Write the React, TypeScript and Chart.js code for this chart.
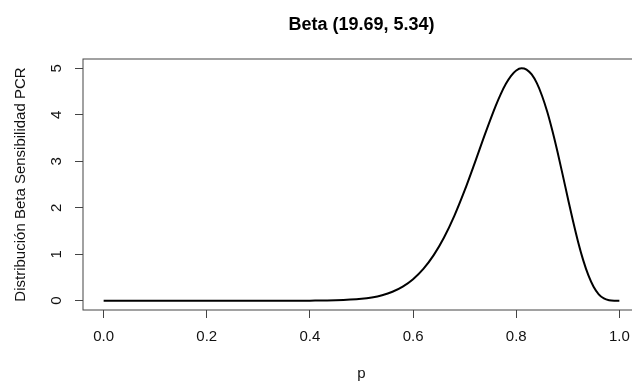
import React, { useEffect, useRef } from "react";
import { Chart, registerables } from "chart.js";

Chart.register(...registerables);

// Density curve
const pValues = [
  0, 0.05, 0.1, 0.15, 0.2, 0.25, 0.3, 0.35, 0.4, 0.45, 0.5, 0.52, 0.54, 0.56, 0.58,
  0.6, 0.62, 0.64, 0.66, 0.68, 0.7, 0.72, 0.74, 0.76, 0.77, 0.78, 0.79, 0.8, 0.81,
  0.82, 0.83, 0.84, 0.85, 0.86, 0.87, 0.88, 0.89, 0.9, 0.91, 0.92, 0.93, 0.94, 0.95,
  0.96, 0.97, 0.98, 0.99, 1.0,
];
const density = [
  0, 0, 0, 0, 0, 0, 0, 0.0002, 0.0014, 0.0085, 0.0405, 0.0705, 0.119, 0.193, 0.304,
  0.464, 0.685, 0.98, 1.36, 1.826, 2.372, 2.977, 3.601, 4.188, 4.446, 4.666, 4.837, 4.952, 5.0,
  4.973, 4.867, 4.68, 4.41, 4.07, 3.66, 3.203, 2.712, 2.21, 1.72, 1.265, 0.868, 0.543, 0.3,
  0.138, 0.048, 0.01, 0.0006, 0,
];

const xTickValues = [0, 0.2, 0.4, 0.6, 0.8, 1.0];
const xTickLabels = ["0.0", "0.2", "0.4", "0.6", "0.8", "1.0"];
const yTickValues = [0, 1, 2, 3, 4, 5];
const yTickLabels = ["0", "1", "2", "3", "4", "5"];

const chartTitle = "Beta (19.69, 5.34)";
const xAxisTitle = "p";
const yAxisTitle = "Distribución Beta Sensibilidad PCR";

const FONT = "'Liberation Sans', Arial, sans-serif";
const LINE_COLOR = "#444444";
const TEXT_COLOR = "#111111";

const decorPlugin = {
  id: "rDecor",
  afterDraw(chart: any) {
    const { ctx, chartArea, scales } = chart;
    const { left, right, top, bottom } = chartArea;
    ctx.save();
    // plot box
    ctx.strokeStyle = LINE_COLOR;
    ctx.lineWidth = 1;
    ctx.strokeRect(left, top, right - left, bottom - top);

    // title
    ctx.fillStyle = "#000000";
    ctx.font = `bold 18px ${FONT}`;
    ctx.textAlign = "center";
    ctx.textBaseline = "alphabetic";
    ctx.fillText(chartTitle, (left + right) / 2, 30);

    // x axis title
    ctx.fillStyle = TEXT_COLOR;
    ctx.font = `15px ${FONT}`;
    ctx.fillText(xAxisTitle, (left + right) / 2, 378);

    // y tick labels (rotated, as in R las=0)
    const yScale = scales.y;
    yTickValues.forEach((v, i) => {
      const py = yScale.getPixelForValue(v);
      ctx.save();
      ctx.translate(left - 21.6, py);
      ctx.rotate(-Math.PI / 2);
      ctx.textAlign = "center";
      ctx.textBaseline = "alphabetic";
      ctx.fillText(yTickLabels[i], 0, 0);
      ctx.restore();
    });

    // y axis title
    ctx.save();
    ctx.translate(left - 57.6, (top + bottom) / 2);
    ctx.rotate(-Math.PI / 2);
    ctx.textAlign = "center";
    ctx.textBaseline = "alphabetic";
    ctx.fillText(yAxisTitle, 0, 0);
    ctx.restore();

    ctx.restore();
  },
};

export default function App() {
  const canvasRef = useRef<HTMLCanvasElement | null>(null);

  useEffect(() => {
    document.body.style.margin = "0";
    const canvas = canvasRef.current;
    if (!canvas) return;
    const chart = new Chart(canvas, {
      type: "scatter",
      data: {
        datasets: [
          {
            data: pValues.map((p, i) => ({ x: p, y: density[i] })),
            showLine: true,
            borderColor: "#000000",
            borderWidth: 2,
            pointRadius: 0,
            fill: false,
            cubicInterpolationMode: "monotone",
          },
        ],
      },
      options: {
        responsive: false,
        animation: false,
        devicePixelRatio: 1,
        layout: { padding: { top: 59, right: 5, left: 0, bottom: 0 } },
        plugins: {
          legend: { display: false },
          title: { display: false },
          tooltip: { enabled: false },
        },
        scales: {
          x: {
            type: "linear",
            min: -0.04,
            max: 1.04,
            afterBuildTicks: (scale: any) => {
              scale.ticks = xTickValues.map((v) => ({ value: v }));
            },
            afterFit: (scale: any) => {
              scale.height = 72;
            },
            border: { display: false },
            grid: {
              display: true,
              drawOnChartArea: false,
              drawTicks: true,
              tickLength: 8,
              color: LINE_COLOR,
              lineWidth: 1,
            },
            ticks: {
              autoSkip: false,
              maxRotation: 0,
              minRotation: 0,
              padding: 10,
              color: TEXT_COLOR,
              font: { family: FONT, size: 15 },
              callback: (_v: any, i: number) => xTickLabels[i],
            },
          },
          y: {
            type: "linear",
            min: -0.2,
            max: 5.2,
            afterBuildTicks: (scale: any) => {
              scale.ticks = yTickValues.map((v) => ({ value: v }));
            },
            afterFit: (scale: any) => {
              scale.width = 83;
            },
            border: { display: false },
            grid: {
              display: true,
              drawOnChartArea: false,
              drawTicks: true,
              tickLength: 8,
              color: LINE_COLOR,
              lineWidth: 1,
            },
            ticks: {
              autoSkip: false,
              color: "rgba(0,0,0,0)",
              font: { family: FONT, size: 15 },
              callback: (_v: any, i: number) => yTickLabels[i],
            },
          },
        },
      },
      plugins: [decorPlugin],
    } as any);
    return () => chart.destroy();
  }, []);

  return (
    <div
      style={{
        position: "absolute",
        left: 0,
        top: 0,
        width: 632,
        height: 382,
        overflow: "hidden",
        background: "#ffffff",
      }}
    >
      <canvas ref={canvasRef} width={645} height={382} style={{ display: "block" }} />
    </div>
  );
}
